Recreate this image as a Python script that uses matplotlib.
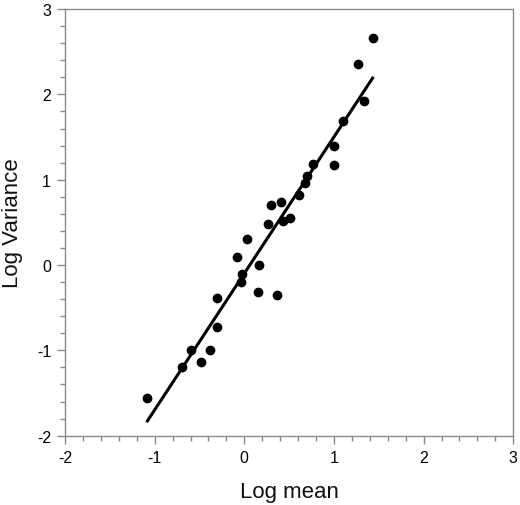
import numpy as np
import matplotlib.pyplot as plt
from matplotlib.ticker import MultipleLocator

plt.rcParams['font.family'] = ['Liberation Sans', 'DejaVu Sans']
plt.rcParams['axes.unicode_minus'] = False

# data
log_mean = [-1.09, -0.69, -0.60, -0.48, -0.38, -0.30, -0.30, -0.08, -0.03, -0.04,
            0.03, 0.16, 0.15, 0.37, 0.26, 0.30, 0.41, 0.43, 0.51, 0.61,
            0.68, 0.70, 0.77, 1.00, 1.00, 1.10, 1.33, 1.27, 1.44]
log_var = [-1.56, -1.20, -1.00, -1.14, -1.00, -0.73, -0.39, 0.09, -0.10, -0.20,
           0.31, 0.00, -0.32, -0.35, 0.48, 0.70, 0.74, 0.52, 0.55, 0.82,
           0.96, 1.04, 1.19, 1.17, 1.40, 1.69, 1.92, 2.36, 2.66]

# fitted line
fit_x = [-1.09, 1.44]
slope = 1.6
intercept = -0.098

fig = plt.figure(figsize=(5.2, 5.06), dpi=100)
ax = fig.add_axes([0.125, 0.137, 0.862, 0.843])

ax.plot(log_mean, log_var, 'o', color='black', markersize=6, zorder=3)
fx = np.array(fit_x)
ax.plot(fx, slope * fx + intercept, color='black', linewidth=2.2, solid_capstyle='butt')

ax.set_xlim(-2, 3)
ax.set_ylim(-2, 3)
ax.xaxis.set_major_locator(MultipleLocator(1))
ax.yaxis.set_major_locator(MultipleLocator(1))
ax.xaxis.set_minor_locator(MultipleLocator(0.2))
ax.yaxis.set_minor_locator(MultipleLocator(0.2))

for s in ax.spines.values():
    s.set_color('#8a8a8a')
    s.set_linewidth(1.0)

ax.tick_params(which='major', direction='out', length=6, width=1, color='#8a8a8a',
               labelsize=11.5, labelcolor='black', pad=4)
ax.tick_params(which='minor', direction='out', length=3.5, width=1, color='#8a8a8a')
ax.tick_params(top=False, right=False, which='both')

ax.set_xlabel('Log mean', fontsize=16, color='#111111', labelpad=12)
ax.set_ylabel('Log Variance', fontsize=16, color='#111111', labelpad=10)

fig.savefig('out.png', dpi=100)
